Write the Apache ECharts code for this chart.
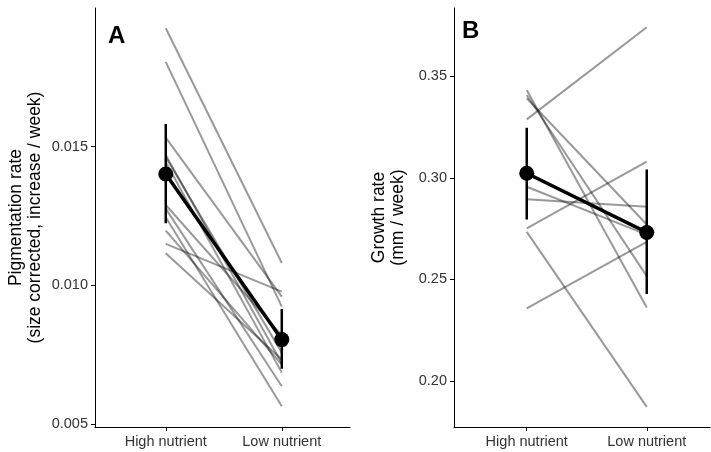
<!DOCTYPE html>
<html>
<head>
<meta charset="utf-8">
<script src="https://cdn.jsdelivr.net/npm/echarts@6/dist/echarts.min.js"></script>
<style>
  html, body { margin: 0; padding: 0; background: #fff; }
  #chart { width: 711px; height: 452px; }
</style>
</head>
<body>
<div id="chart"></div>
<script>
// 类别
const categories = ["High nutrient", "Low nutrient"];

// A: pigmentation rate, one value per individual
const pigHigh = [0.01927, 0.01806, 0.01533, 0.01462, 0.01444, 0.01277, 0.01246, 0.0115, 0.01116, 0.01198, 0.0129, 0.0147];
const pigLow = [0.01081, 0.00924, 0.0096, 0.00758, 0.00686, 0.00637, 0.00565, 0.00978, 0.00733, 0.00715, 0.0082, 0.0072];
const pigMean = [0.01402, 0.00805];
const pigUpper = [0.01582, 0.00915];
const pigLower = [0.01224, 0.0070];
const pigTicks = [0.005, 0.010, 0.015];

// B: growth rate
const growHigh = [0.3432, 0.3407, 0.3391, 0.3287, 0.2956, 0.2894, 0.2751, 0.2734, 0.2357];
const growLow = [0.2362, 0.2516, 0.277, 0.374, 0.272, 0.2857, 0.3079, 0.1873, 0.2685];
const growMean = [0.3022, 0.2731];
const growUpper = [0.3246, 0.3041];
const growLower = [0.2795, 0.2428];
const growTicks = [0.20, 0.25, 0.30, 0.35];

const font = "'Liberation Sans', Arial, sans-serif";

const chart = echarts.init(document.getElementById("chart"));

const buildSeries = (idx, high, low, mean, upper, lower) => {
  const series = [];
  // 个体连线
  high.forEach((h, i) => {
    series.push({
      type: "line",
      xAxisIndex: idx,
      yAxisIndex: idx,
      data: [[1, h], [2, low[i]]],
      showSymbol: false,
      silent: true,
      z: 1,
      lineStyle: { color: "rgba(0,0,0,0.4)", width: 2 },
    });
  });
  // 误差线
  [0, 1].forEach((k) => {
    series.push({
      type: "line",
      xAxisIndex: idx,
      yAxisIndex: idx,
      data: [[k + 1, lower[k]], [k + 1, upper[k]]],
      showSymbol: false,
      silent: true,
      z: 3,
      lineStyle: { color: "#000", width: 2.5 },
    });
  });
  // 均值
  series.push({
    type: "line",
    xAxisIndex: idx,
    yAxisIndex: idx,
    data: [[1, mean[0]], [2, mean[1]]],
    symbol: "circle",
    symbolSize: 15,
    z: 4,
    itemStyle: { color: "#000" },
    lineStyle: { color: "#000", width: 3.5 },
  });
  return series;
};

const xAxisFor = (idx, min, max) => ({
  type: "value",
  gridIndex: idx,
  min: min,
  max: max,
  splitLine: { show: false },
  axisLine: { lineStyle: { color: "#000", width: 1 } },
  axisTick: { show: true, length: 4, customValues: [1, 2], lineStyle: { color: "#000" } },
  axisLabel: {
    customValues: [1, 2],
    formatter: (v) => categories[Math.round(v) - 1],
    color: "#333",
    fontSize: 14.5,
    fontFamily: font,
    margin: 7,
  },
});

const yAxisFor = (idx, min, max, ticks, digits, name, gap) => ({
  type: "value",
  gridIndex: idx,
  min: min,
  max: max,
  name: name,
  nameLocation: "middle",
  nameRotate: 90,
  nameGap: gap,
  nameTextStyle: { color: "#000", fontSize: 17.5, fontFamily: font, lineHeight: 19 },
  splitLine: { show: false },
  axisLine: { show: true, lineStyle: { color: "#000", width: 1 } },
  axisTick: { show: true, length: 4, customValues: ticks, lineStyle: { color: "#000" } },
  axisLabel: {
    customValues: ticks,
    formatter: (v) => v.toFixed(digits),
    color: "#333",
    fontSize: 14.5,
    fontFamily: font,
    margin: 7,
  },
});

chart.setOption({
  animation: false,
  backgroundColor: "#fff",
  grid: [
    { left: 95, top: 8, width: 255, height: 419 },
    { left: 454, top: 8, width: 256, height: 419 },
  ],
  xAxis: [xAxisFor(0, 0.39, 2.588), xAxisFor(1, 0.394, 2.527)],
  yAxis: [
    yAxisFor(0, 0.0049, 0.02, pigTicks, 3, "Pigmentation rate\n(size corrected, increase / week)", 50),
    yAxisFor(1, 0.1774, 0.3835, growTicks, 2, "Growth rate\n(mm / week)", 46),
  ],
  graphic: [
    { type: "text", left: 108, top: 24, style: { text: "A", font: "bold 24px " + font, fill: "#000" } },
    { type: "text", left: 462, top: 19, style: { text: "B", font: "bold 24px " + font, fill: "#000" } },
  ],
  series: [
    ...buildSeries(0, pigHigh, pigLow, pigMean, pigUpper, pigLower),
    ...buildSeries(1, growHigh, growLow, growMean, growUpper, growLower),
  ],
});
</script>
</body>
</html>
